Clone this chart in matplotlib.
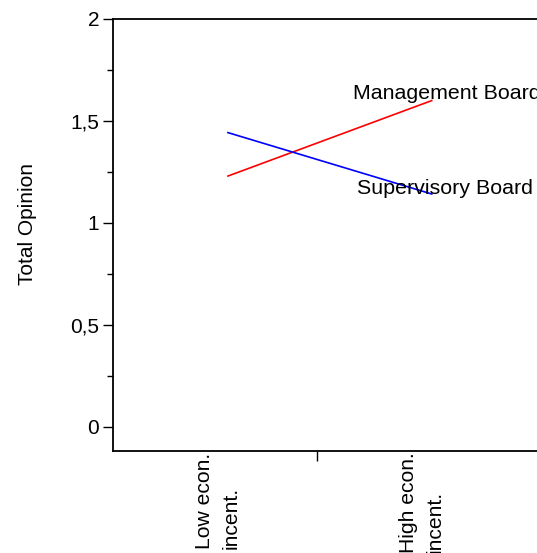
import matplotlib.pyplot as plt
from matplotlib.ticker import MultipleLocator, FuncFormatter

plt.rcParams['font.family'] = ['Liberation Sans', 'DejaVu Sans']

# data
conditions = ["Low econ.\nincent.", "High econ.\nincent."]
x_pos = [0, 1]
management = [1.23, 1.60]
supervisory = [1.443, 1.142]
series_names = ["Management Board", "Supervisory Board"]

fig = plt.figure(figsize=(5.37, 5.53), dpi=100)
ax = fig.add_axes([113 / 537, 102 / 553, 441 / 537, 432 / 553])

ax.plot(x_pos, management, color="#ff0000", lw=1.2)
ax.plot(x_pos, supervisory, color="#0000ff", lw=1.2)

ax.text(0.613, 1.637, series_names[0], fontsize=15.4, va="center", ha="left")
ax.text(0.632, 1.167, series_names[1], fontsize=15.4, va="center", ha="left")

ax.set_xlim(-0.564, 1.6)
ax.set_ylim(-0.118, 2)

# y axis
ax.yaxis.set_major_locator(MultipleLocator(0.5))
ax.yaxis.set_minor_locator(MultipleLocator(0.25))
ax.yaxis.set_major_formatter(FuncFormatter(lambda v, p: f"{v:g}".replace(".", ",")))
ax.tick_params(axis="y", which="major", length=7, width=1, labelsize=15, pad=3)
ax.tick_params(axis="y", which="minor", length=4, width=1)
ax.set_ylabel("Total Opinion", fontsize=15)
ax.yaxis.set_label_coords(-0.172, 0.525)

# x axis: labels under each condition, one tick between them
ax.set_xticks([-0.049, 0.951])
ax.set_xticklabels(conditions, rotation=90, fontsize=15.2, va="top", ha="center",
                   linespacing=1.5, multialignment="left")
ax.tick_params(axis="x", which="major", length=0, pad=1)
ax.set_xticks([0.436], minor=True)
ax.tick_params(axis="x", which="minor", length=7, width=1)

for s in ax.spines.values():
    s.set_linewidth(1.3)

fig.savefig("out.png", dpi=100)
